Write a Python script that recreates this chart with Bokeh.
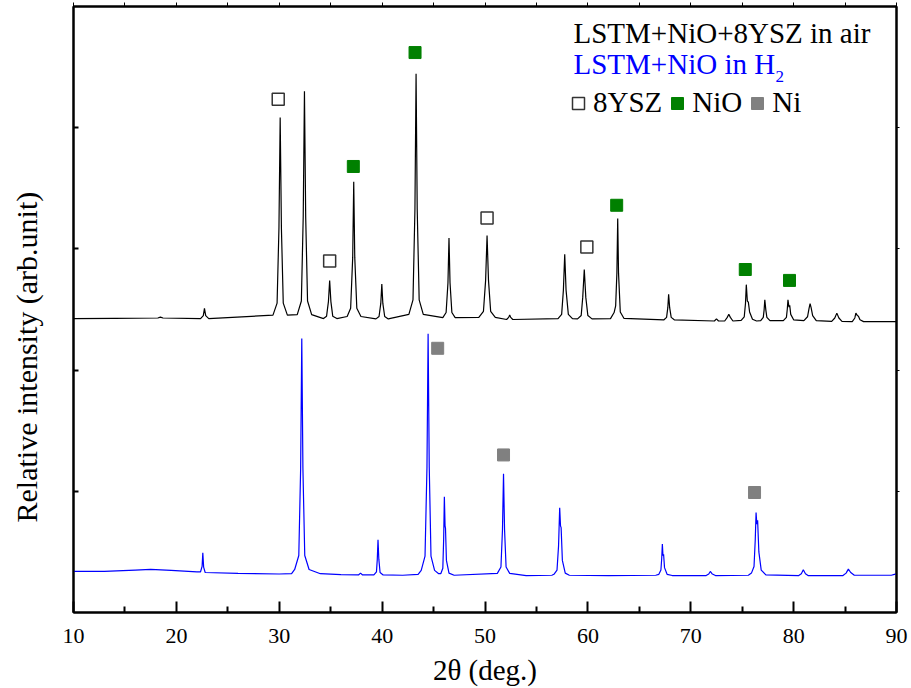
from bokeh.plotting import figure
from bokeh.models import Range1d, LinearAxis, FixedTicker, Label, Legend, LegendItem, Title
from bokeh.embed import file_html
from bokeh.resources import INLINE

FONT = "Liberation Serif"

# LSTM+NiO+8YSZ in air (black trace) : 2theta, intensity (arb.)
two_theta_air = [
    10.0, 14.0, 18.2, 18.45, 18.7, 22.35, 22.62, 22.73, 22.85, 23.15,
    29.39, 29.79, 29.97, 30.09, 30.21, 30.39, 30.79,
    31.75, 32.15, 32.33, 32.45, 32.57, 32.75, 33.15,
    34.3, 34.6, 34.78, 34.9, 35.02, 35.2, 35.6,
    36.6, 36.94, 37.14, 37.24, 37.34, 37.54, 37.94,
    39.4, 39.7, 39.87, 39.97, 40.07, 40.25, 40.6,
    42.6, 43.0, 43.19, 43.3, 43.41, 43.6, 44.0,
    45.9, 46.22, 46.4, 46.5, 46.6, 46.78, 47.1,
    49.4, 49.85, 50.06, 50.2, 50.34, 50.55, 51.0,
    52.1, 52.3, 52.4, 52.5, 52.7,
    57.1, 57.45, 57.62, 57.75, 57.88, 58.1, 58.5,
    59.0, 59.35, 59.5, 59.65, 59.8, 60.0, 60.4,
    62.2, 62.55, 62.7, 62.82, 62.9, 62.98, 63.15, 63.5,
    67.4, 67.65, 67.77, 67.85, 67.95, 68.1, 68.4,
    72.3, 72.5, 72.7,
    73.3, 73.55, 73.7, 73.85, 74.1,
    74.9, 75.2, 75.32, 75.4, 75.5, 75.6, 75.72, 76.0, 76.4,
    76.8, 77.05, 77.13, 77.2, 77.3, 77.4, 77.7,
    79.0, 79.3, 79.38, 79.45, 79.55, 79.62, 79.72, 80.0,
    81.0, 81.35, 81.5, 81.6, 81.7, 81.85, 82.2,
    83.7, 84.0, 84.2, 84.4, 84.7,
    85.7, 85.95, 86.05, 86.2, 86.3, 86.45, 86.8,
    90.0,
]
intensity_air = [
    48.5, 48.55, 48.6, 48.75, 48.6, 48.5, 49.0, 50.2, 49.0, 48.5,
    49.07, 51.06, 63.4, 81.7, 63.4, 51.06, 49.07,
    49.15, 51.4, 65.3, 86.0, 65.3, 51.4, 49.15,
    48.5, 48.9, 51.3, 54.8, 51.3, 48.9, 48.5,
    48.85, 50.2, 58.6, 71.1, 58.6, 50.2, 48.85,
    48.45, 48.85, 51.0, 54.2, 51.0, 48.85, 48.45,
    49.2, 51.6, 66.6, 88.9, 66.6, 51.6, 49.2,
    48.65, 49.5, 54.4, 61.8, 54.4, 49.5, 48.65,
    48.7, 49.7, 54.8, 62.2, 54.8, 49.7, 48.7,
    48.35, 48.7, 49.1, 48.7, 48.35,
    48.5, 49.2, 53.2, 59.1, 53.2, 49.2, 48.5,
    48.45, 49.0, 52.0, 56.6, 52.0, 49.0, 48.45,
    48.5, 49.5, 50.6, 56.0, 65.0, 56.0, 49.6, 48.55,
    48.3, 48.7, 50.3, 52.5, 50.3, 48.7, 48.3,
    48.1, 48.45, 48.1,
    48.1, 48.7, 49.2, 48.7, 48.1,
    48.2, 48.8, 51.0, 54.1, 51.4, 51.2, 49.6, 48.4, 48.1,
    48.15, 48.7, 49.9, 51.6, 49.9, 48.7, 48.15,
    48.15, 48.7, 50.0, 51.6, 50.4, 50.7, 49.2, 48.3,
    48.15, 48.8, 50.2, 50.96, 50.3, 49.0, 48.15,
    48.05, 48.6, 49.4, 48.6, 48.05,
    48.0, 48.6, 49.4, 49.0, 48.9, 48.3, 48.0,
    48.0,
]

# LSTM+NiO in H2 (blue trace)
two_theta_h2 = [
    10.0, 13.0, 16.0, 17.5, 19.5, 22.0,
    22.35, 22.5, 22.57, 22.65, 22.8,
    26.0, 30.0, 31.2,
    31.5, 31.9, 32.08, 32.19, 32.3, 32.48, 32.9,
    34.0, 36.0, 37.7, 37.9, 38.1,
    39.2, 39.45, 39.53, 39.6, 39.68, 39.8, 40.1,
    42.0, 43.5,
    43.8, 44.17, 44.36, 44.47, 44.58, 44.75, 45.1, 45.5,
    45.7, 45.9, 45.98, 46.05, 46.12, 46.16, 46.25, 46.5, 47.0,
    51.2, 51.55, 51.7, 51.8, 51.9, 52.05, 52.4, 54.0, 56.5,
    56.7, 57.0, 57.15, 57.26, 57.34, 57.4, 57.52, 57.8, 58.2,
    62.0, 66.6,
    66.9, 67.1, 67.18, 67.24, 67.3, 67.36, 67.45, 67.7, 68.2,
    71.5, 71.75, 71.9, 72.1, 72.4,
    75.6,
    75.9, 76.15, 76.27, 76.35, 76.42, 76.5, 76.62, 76.85, 77.3,
    80.5, 80.75, 80.94, 81.15, 81.4,
    84.8, 85.1, 85.32, 85.55, 85.9,
    89.5, 89.8, 90.0,
]
intensity_h2 = [
    6.77, 6.8, 7.0, 7.1, 6.95, 6.7,
    6.72, 7.6, 9.85, 7.5, 6.6,
    6.45, 6.35, 6.4,
    7.1, 9.4, 23.8, 45.2, 23.8, 9.4, 7.1,
    6.4, 6.25, 6.2, 6.5, 6.2,
    6.2, 6.7, 8.8, 12.0, 8.8, 6.6, 6.2,
    6.15, 6.3,
    6.95, 9.3, 24.0, 46.0, 24.0, 9.3, 6.95, 6.4,
    6.4, 7.3, 12.0, 19.1, 14.2, 13.9, 8.6, 6.5, 6.15,
    6.45, 7.5, 13.7, 22.9, 13.7, 7.5, 6.45, 6.1, 6.15,
    6.3, 7.0, 11.0, 17.3, 14.3, 14.0, 8.6, 6.5, 6.15,
    6.1, 6.15,
    6.3, 7.0, 9.0, 11.3, 9.4, 9.6, 7.4, 6.3, 6.1,
    6.1, 6.35, 6.77, 6.35, 6.1,
    6.15,
    6.5, 7.6, 12.0, 16.5, 14.6, 15.2, 10.0, 7.0, 6.2,
    6.1, 6.4, 7.05, 6.4, 6.1,
    6.1, 6.5, 7.15, 6.6, 6.15,
    6.15, 6.3, 6.4,
]

# Phase markers
ysz_x = [29.9, 34.9, 50.2, 59.9]
ysz_y = [84.7, 58.0, 65.1, 60.3]
nio_x = [37.2, 43.2, 62.8, 75.3, 79.6]
nio_y = [73.6, 92.4, 67.2, 56.6, 54.8]
ni_x = [45.4, 51.8, 76.2]
ni_y = [43.6, 26.0, 19.8]

x_ticks = [10, 20, 30, 40, 50, 60, 70, 80, 90]
x_minor = [15, 25, 35, 45, 55, 65, 75, 85]
y_ticks = [20, 40, 60, 80]

p = figure(width=911, height=688, x_range=Range1d(10, 90), y_range=Range1d(0, 100),
           output_backend="svg", toolbar_location=None,
           min_border_left=73, min_border_right=15, min_border_top=6, min_border_bottom=76,
           x_axis_label="2θ (deg.)")
p.xgrid.visible = False
p.ygrid.visible = False
p.outline_line_color = "black"
p.outline_line_width = 2
p.background_fill_color = "white"
p.border_fill_color = "white"

xa = p.xaxis[0]
xa.ticker = FixedTicker(ticks=x_ticks, minor_ticks=x_minor)
xa.major_tick_in = 11
xa.major_tick_out = 0
xa.minor_tick_in = 6
xa.minor_tick_out = 0
xa.axis_line_width = 2
xa.major_tick_line_width = 2
xa.minor_tick_line_width = 2
xa.major_label_text_font = FONT
xa.major_label_text_font_size = "22px"
xa.major_label_text_color = "black"
xa.major_label_standoff = 16
xa.axis_label_text_font = FONT
xa.axis_label_text_font_size = "29px"
xa.axis_label_text_font_style = "normal"
xa.axis_label_text_color = "black"
xa.axis_label_standoff = 8

# left axis: visible inward ticks drawn as minor ticks; the (invisible) outward
# major ticks only reserve room between the frame and the axis title
ya = p.yaxis[0]
ya.ticker = FixedTicker(ticks=y_ticks, minor_ticks=y_ticks)
ya.major_tick_in = 0
ya.major_tick_out = 31
ya.major_tick_line_color = None
ya.minor_tick_in = 5
ya.minor_tick_out = 0
ya.minor_tick_line_color = "black"
ya.minor_tick_line_width = 2
ya.axis_line_width = 2
ya.major_label_text_font_size = "1px"
ya.major_label_text_color = None
ya.major_label_standoff = 0

top = LinearAxis(ticker=FixedTicker(ticks=x_ticks, minor_ticks=x_minor),
                 major_tick_in=0, major_tick_out=4, minor_tick_in=0, minor_tick_out=4,
                 axis_line_width=2, major_tick_line_width=1, minor_tick_line_width=1,
                 major_label_text_font_size="1px", major_label_text_color=None,
                 major_label_standoff=0)
p.add_layout(top, "above")
right = LinearAxis(ticker=FixedTicker(ticks=y_ticks),
                   major_tick_in=0, major_tick_out=3, minor_tick_line_color=None,
                   axis_line_width=2, major_tick_line_width=1,
                   major_label_text_font_size="1px", major_label_text_color=None,
                   major_label_standoff=0)
p.add_layout(right, "right")

p.add_layout(Title(text="Relative intensity (arb.unit)", align="left", offset=90,
                   standoff=0, text_font=FONT, text_font_size="30px",
                   text_font_style="normal", text_color="black"), "left")

p.line(two_theta_air, intensity_air, line_color="black", line_width=1.2)
p.line(two_theta_h2, intensity_h2, line_color="#0000ff", line_width=1.2)

r_ysz = p.scatter(ysz_x, ysz_y, marker="square", size=12, fill_color="white",
                  line_color="#333333", line_width=1.5)
r_nio = p.scatter(nio_x, nio_y, marker="square", size=12, fill_color="#008000",
                  line_color="#008000")
r_ni = p.scatter(ni_x, ni_y, marker="square", size=12, fill_color="#808080",
                 line_color="#808080")

legend = Legend(items=[LegendItem(label="8YSZ", renderers=[r_ysz]),
                       LegendItem(label="NiO", renderers=[r_nio]),
                       LegendItem(label="Ni", renderers=[r_ni])],
                orientation="horizontal", location=(490, 493),
                glyph_width=30, glyph_height=30, label_standoff=0, spacing=0,
                padding=0, margin=0, border_line_color=None, background_fill_alpha=0,
                label_text_font=FONT, label_text_font_size="29px", label_text_color="black")
p.add_layout(legend)

p.add_layout(Label(x=500, y=580, x_units="screen", y_units="screen",
                   text="LSTM+NiO+8YSZ in air", text_font=FONT, text_font_size="29px",
                   text_color="black", text_baseline="alphabetic"))
p.add_layout(Label(x=500, y=549, x_units="screen", y_units="screen",
                   text="LSTM+NiO in H", text_font=FONT, text_font_size="29px",
                   text_color="#0000ff", text_baseline="alphabetic"))
p.add_layout(Label(x=702, y=536, x_units="screen", y_units="screen",
                   text="2", text_font=FONT, text_font_size="17px",
                   text_color="#0000ff", text_baseline="alphabetic"))

open("out.html", "w").write(file_html(p, INLINE))
